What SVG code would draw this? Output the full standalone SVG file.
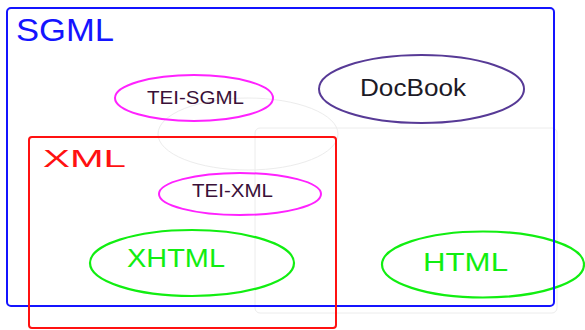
<svg xmlns="http://www.w3.org/2000/svg" width="585" height="330" viewBox="0 0 585 330">
  <style>
    text { font-family: "Liberation Sans", Arial, sans-serif; text-anchor: start; }
    .ghost { fill: none; stroke: #ececec; stroke-width: 1; }
    .tei { fill: none; stroke: #ff22ff; stroke-width: 2; }
    .tei-label { fill: #3a1038; font-size: 17.5px; }
    .green { fill: none; stroke: #11ee11; stroke-width: 2.2; }
    .green-label { fill: #11ee11; font-size: 25px; }
    .set { fill: none; stroke-width: 2; }
  </style>

  <!-- faint background outlines -->
  <g id="ghosts">
    <ellipse class="ghost" cx="248" cy="134" rx="90" ry="36"/>
    <rect class="ghost" x="255" y="128" width="302" height="185" rx="5"/>
  </g>

  <g id="tei-sgml">
    <ellipse class="tei" cx="194" cy="98" rx="79" ry="23"/>
    <text class="tei-label" x="147" y="103.5" textLength="97" lengthAdjust="spacingAndGlyphs">TEI-SGML</text>
  </g>

  <g id="docbook">
    <ellipse cx="421.5" cy="89" rx="102.5" ry="34" fill="none" stroke="#573a96" stroke-width="2"/>
    <text x="360" y="96" font-size="23" fill="#1c1a26" textLength="106" lengthAdjust="spacingAndGlyphs">DocBook</text>
  </g>

  <g id="tei-xml">
    <ellipse class="tei" cx="240" cy="194" rx="81" ry="21"/>
    <text class="tei-label" x="192" y="197" textLength="81" lengthAdjust="spacingAndGlyphs">TEI-XML</text>
  </g>

  <g id="xhtml">
    <ellipse class="green" cx="192" cy="263" rx="102" ry="33"/>
    <text class="green-label" x="127" y="267" textLength="98" lengthAdjust="spacingAndGlyphs">XHTML</text>
  </g>

  <g id="html">
    <ellipse class="green" cx="483" cy="264.5" rx="101" ry="33"/>
    <text class="green-label" x="423" y="270.5" font-size="24" textLength="85" lengthAdjust="spacingAndGlyphs">HTML</text>
  </g>

  <g id="sgml">
    <rect class="set" x="7" y="8" width="547" height="298" rx="4" stroke="#1414ff"/>
    <text x="16" y="41" font-size="31" fill="#1414ff" textLength="98" lengthAdjust="spacingAndGlyphs">SGML</text>
  </g>

  <g id="xml">
    <rect class="set" x="29" y="137" width="307" height="191" rx="3" stroke="#ff1111"/>
    <text x="43" y="166.5" font-size="24" fill="#ff1111" textLength="83" lengthAdjust="spacingAndGlyphs">XML</text>
  </g>
</svg>
